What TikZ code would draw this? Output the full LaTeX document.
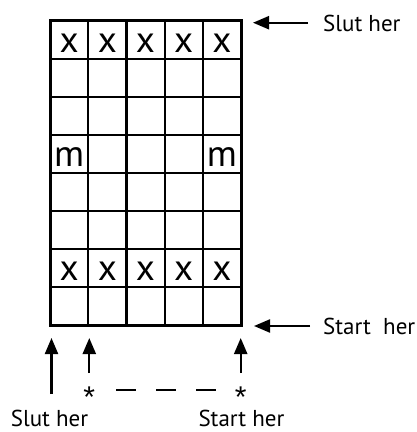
\documentclass[tikz,border=0pt]{standalone}
\usepackage{fontspec}
\setmainfont{PT Sans}
\newfontfamily\starfont{Liberation Sans}
\usetikzlibrary{arrows.meta}

\begin{document}
\begin{tikzpicture}[x=1pt,y={(0,-1pt)},
  lbl/.style={font=\fontsize{23}{25}\selectfont,inner sep=0pt,anchor=base},
  cell/.style={font=\fontsize{37}{38}\selectfont,inner sep=0pt,anchor=base},
  starmark/.style={font=\starfont\fontsize{30}{30}\selectfont,inner sep=0pt,anchor=base},
  pointer/.style={line width=2.2pt,-{Triangle[length=16pt,width=13pt]}}]
\useasboundingbox (0,0) rectangle (417,432);
% grid, 5 columns and 8 rows
\foreach \c in {1,...,4}
{\draw[line width=2.2pt] (50+38.2*\c,20.5) -- (50+38.2*\c,325.5);}
\foreach \r in {1,...,7}
{\draw[line width=2.2pt] (50,20.5+38.125*\r) -- (241,20.5+38.125*\r);}
\draw[line width=3pt] (50,20.5) rectangle (241,325.5);
% letters in the cells
\foreach \c in {0,...,4}
{\node[cell] (top\c) at (69.1+38.2*\c,52) {x};
 \node[cell] (low\c) at (69.1+38.2*\c,280.7) {x};}
\node[cell] (mleft) at (69.1,166.4) {m};
\node[cell] (mright) at (221.9,166.4) {m};
% labels on the right
\node[lbl,anchor=base west] (slutR) at (323,31) {Slut her};
\node[lbl,anchor=base west] (startR) at (323,334) {Start\ \ her};
\coordinate (topC) at (253,22.7);
\coordinate (botC) at (254,326);
\draw[pointer] ([xshift=-15pt,yshift=8.3pt]slutR.base west) -- (topC);
\draw[pointer] ([xshift=-13pt,yshift=8pt]startR.base west) -- (botC);
% marks and labels below
\node[starmark] (star1) at (89.3,407) {*};
\node[starmark] (star2) at (240.7,407) {*};
\node[lbl] (slutB) at (49.5,426) {Slut her};
\node[lbl] (startB) at (241.5,426) {Start her};
\coordinate (upA) at (51.5,338);
\coordinate (upB) at (89.3,338);
\coordinate (upC) at (240.7,338);
\coordinate (footA) at (51.5,394);
\draw[pointer] (footA) -- (upA);
\draw[pointer] ([yshift=34pt]star1.base) -- (upB);
\draw[pointer] ([yshift=34pt]star2.base) -- (upC);
\draw[line width=2.5pt,dash pattern=on 20pt off 20pt]
  ([xshift=26.7pt,yshift=17pt]star1.base) -- ([xshift=-24.7pt,yshift=17pt]star2.base);
\end{tikzpicture}
\end{document}
